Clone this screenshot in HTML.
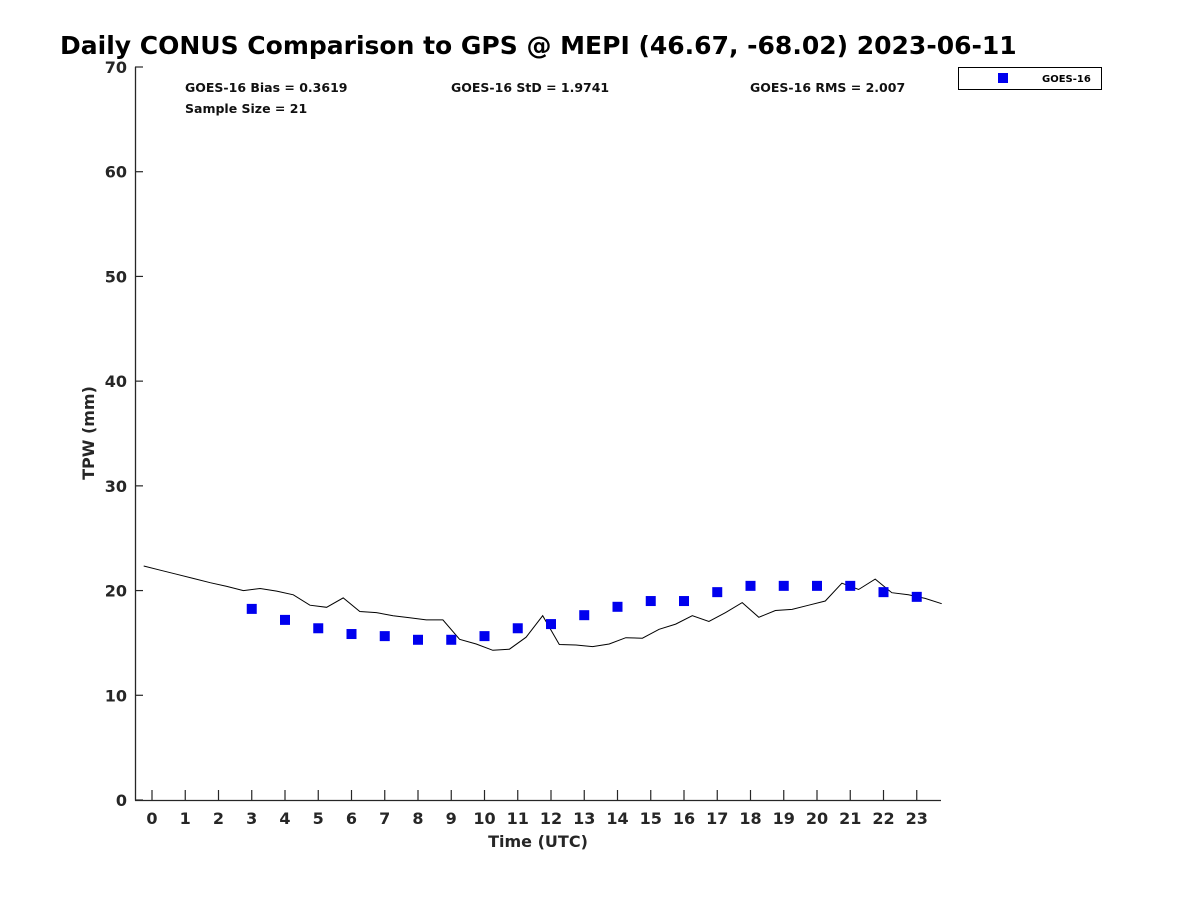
<!DOCTYPE html>
<html><head><meta charset="utf-8"><style>
body{margin:0;background:#fff;}
svg{display:block;font-family:"DejaVu Sans","Liberation Sans",sans-serif;}
</style></head><body>
<svg id="chart" width="1200" height="900">
<text x="60" y="54" font-size="25" font-weight="bold" fill="#000">Daily CONUS Comparison to GPS @ MEPI (46.67, -68.02) 2023-06-11</text>
<g font-size="12.5" font-weight="bold" fill="#111">
<text x="185" y="92">GOES-16 Bias = 0.3619</text>
<text x="451" y="92">GOES-16 StD = 1.9741</text>
<text x="750" y="92">GOES-16 RMS = 2.007</text>
<text x="185" y="113">Sample Size = 21</text>
</g>
<g id="axes"></g>
<g id="marks"></g>
<text x="538" y="847" font-size="16" font-weight="bold" fill="#262626" text-anchor="middle">Time (UTC)</text>
<text transform="translate(94,433) rotate(-90)" font-size="16" font-weight="bold" fill="#262626" text-anchor="middle">TPW (mm)</text>
<g>
<rect x="958.5" y="67.5" width="143" height="22" fill="#fff" stroke="#000"/>
<rect x="998" y="73" width="10" height="10" fill="#0000ee"/>
<text x="1042" y="82" font-size="10" font-weight="bold" fill="#000">GOES-16</text>
</g>
</svg>
<script>
const gpsTimes = [-0.25,0.25,0.75,1.25,1.75,2.25,2.75,3.25,3.75,4.25,4.75,5.25,5.75,6.25,6.75,7.25,7.75,8.25,8.75,9.25,9.75,10.25,10.75,11.25,11.75,12.25,12.75,13.25,13.75,14.25,14.75,15.25,15.75,16.25,16.75,17.25,17.75,18.25,18.75,19.25,19.75,20.25,20.75,21.25,21.75,22.25,22.75,23.25,23.75];
const gpsValues = [22.35,21.95,21.55,21.15,20.75,20.4,20.0,20.2,19.95,19.6,18.6,18.4,19.3,18.0,17.9,17.6,17.4,17.2,17.2,15.35,14.9,14.3,14.4,15.55,17.6,14.85,14.8,14.65,14.9,15.5,15.45,16.3,16.8,17.6,17.05,17.9,18.85,17.45,18.1,18.2,18.6,19.0,20.7,20.1,21.1,19.8,19.6,19.25,18.75];
const goesHours = [3,4,5,6,7,8,9,10,11,12,13,14,15,16,17,18,19,20,21,22,23];
const goesValues = [18.25,17.2,16.4,15.85,15.65,15.3,15.3,15.65,16.4,16.8,17.65,18.45,19.0,19.0,19.85,20.45,20.45,20.45,20.45,19.85,19.4];
const xTicks = [0,1,2,3,4,5,6,7,8,9,10,11,12,13,14,15,16,17,18,19,20,21,22,23];
const yTicks = [0,10,20,30,40,50,60,70];

const NS='http://www.w3.org/2000/svg';
const X = t => 152 + t*33.25;
const Y = v => 800 - v*(733/70);
function mk(tag, attrs, parent){const e=document.createElementNS(NS,tag);for(const k in attrs)e.setAttribute(k,attrs[k]);parent.appendChild(e);return e;}
const axes=document.getElementById('axes'), marks=document.getElementById('marks');
let a=mk('line',{x1:135.5,y1:67,x2:135.5,y2:800.5,stroke:'#262626','stroke-width':1.3},axes);


a=mk('line',{x1:135,y1:800.5,x2:941,y2:800.5,stroke:'#262626','stroke-width':1.3},axes);


xTicks.forEach(t=>{
  const l=mk('line',{x1:X(t),y1:790,x2:X(t),y2:800,stroke:'#262626','stroke-width':1.2},axes);
  
  
  const s=mk('text',{x:X(t),y:824,'font-size':16,'font-weight':'bold',fill:'#262626','text-anchor':'middle'},axes);
  s.textContent=t;
  
  
});
yTicks.forEach(v=>{
  const l=mk('line',{x1:135,y1:Y(v),x2:143,y2:Y(v),stroke:'#262626','stroke-width':1.2},axes);
  
  
  const s=mk('text',{x:127,y:Y(v)+6,'font-size':16,'font-weight':'bold',fill:'#262626','text-anchor':'end'},axes);
  s.textContent=v;
  
  
});
const pts=gpsTimes.map((t,i)=>X(t).toFixed(1)+','+Y(gpsValues[i]).toFixed(1)).join(' ');
const line=mk('polyline',{points:pts,fill:'none',stroke:'#000','stroke-width':1},marks);


goesHours.forEach((h,i)=>{
  const r=mk('rect',{x:X(h)-5,y:Y(goesValues[i])-5,width:10,height:10,fill:'#0000ee'},marks);
  
  
});
</script>
</body></html>
